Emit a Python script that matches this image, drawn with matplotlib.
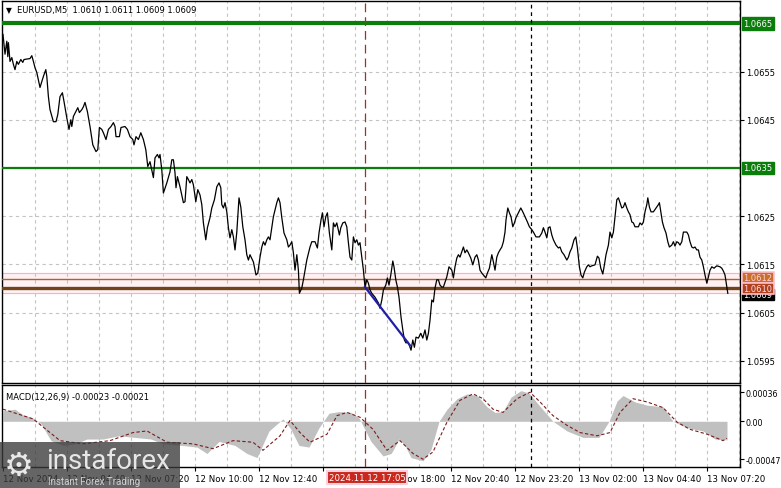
import matplotlib
matplotlib.use("Agg")
import matplotlib.pyplot as plt
from matplotlib.patches import Rectangle

# ---- data (x = bar number on the M5 chart, 0 = 12 Nov 02:00)
bar_pos = [0.0, 1.0, 1.9, 2.4, 2.7, 3.5, 4.4, 5.2, 6.0, 6.9, 7.7, 8.9, 9.9, 10.5, 13.5, 14.4, 15.2, 16.0, 16.9,
           18.5, 19.4, 20.2, 21.4, 21.9, 22.7, 23.5, 25.2, 26.5, 27.4, 28.5, 29.7, 30.5, 31.9, 33.0, 33.9, 34.4,
           35.2, 36.4, 37.4, 38.2, 39.4, 40.2, 41.0, 42.2, 43.5, 44.9, 46.5, 47.4, 48.2, 49.4, 50.2, 51.5, 52.7,
           54.0, 55.2, 56.0, 56.5, 58.2, 59.0, 61.0, 62.2, 63.5, 64.9, 65.5, 66.5, 67.7, 68.9, 70.2, 71.4, 72.4,
           73.5, 74.4, 75.2, 76.0, 77.2, 78.0, 78.5, 79.4, 80.2,
           81.9, 83.5, 84.4, 85.2, 86.0, 86.5, 87.2, 88.5, 90.2, 91.0, 91.9, 92.7, 93.5, 94.4, 95.2, 96.4, 97.4,
           98.5, 99.4, 100.2, 101.4, 102.2, 103.5, 104.4, 105.7, 106.9, 108.0, 108.9, 109.4, 110.2, 111.0, 111.9,
           112.7, 113.5, 114.4, 115.2, 116.0, 116.9, 118.0, 118.9, 119.9, 121.0, 121.9, 122.7, 123.5, 125.2,
           126.5, 127.4, 128.5, 129.4, 130.2, 131.0, 131.9, 132.7, 133.5, 135.2, 136.9, 137.7, 138.5, 139.4,
           140.5, 141.9, 142.7, 143.5, 144.4, 145.2, 146.0, 146.9, 147.7, 148.2,
           149.4, 150.2, 151.9, 153.5, 154.4, 156.0, 157.2, 158.0, 159.0, 159.7, 160.5, 161.4, 162.2, 163.2,
           164.4, 165.2, 166.0, 166.9, 168.2, 168.9, 169.9, 171.0, 171.9, 172.7, 173.5, 174.4, 175.2, 176.0,
           176.9, 177.7, 178.5, 179.4, 180.2, 181.0, 181.9, 182.7, 183.5, 184.4, 186.0, 187.7, 188.5, 189.4,
           190.2, 191.4, 192.2, 193.0, 193.9, 194.9, 195.5, 196.4, 197.2, 198.0, 199.0, 199.9, 200.7, 201.5,
           202.4, 203.2, 204.0, 204.9, 205.7, 206.5, 207.7, 208.9, 209.9, 211.0, 211.9, 212.7, 213.5, 214.4,
           215.2, 216.0, 216.9, 217.7, 218.5, 219.4, 220.2, 221.0, 221.9, 223.0,
           224.4, 225.2, 226.0, 226.9, 227.7, 228.5, 229.4, 230.2, 231.0, 231.9, 232.7, 233.9, 234.9, 236.0,
           236.9, 237.7, 238.5, 239.4, 240.2, 241.4, 242.2, 243.2, 244.4, 245.2, 246.0, 246.9, 247.7, 248.5,
           249.4, 250.2, 251.0, 251.5, 252.4, 253.2, 254.0, 254.9, 255.7, 256.5, 257.7, 258.9, 259.9, 261.0,
           262.2, 263.2, 264.4, 265.2, 266.5, 268.2, 269.4, 270.2, 271.0, 271.9, 272.7, 273.5, 274.4, 275.2,
           276.5, 277.7, 278.5, 279.4, 280.5, 281.9, 282.7, 283.5, 284.4, 285.5, 286.4, 287.2, 288.2, 289.0,
           289.9, 290.7, 291.9, 292.7,
           293.5, 294.4, 296.0, 297.2, 298.0, 298.9, 299.9, 300.7, 301.5, 302.7, 303.5, 304.4, 305.2, 306.0,
           306.9, 307.7, 308.5, 309.4, 310.2, 311.0, 311.9, 312.7, 313.5, 314.4, 315.2, 316.0, 317.7, 318.5,
           319.4, 320.2, 321.0, 321.9, 322.4, 323.2, 324.0, 325.2, 326.5, 327.7, 328.2, 328.9, 329.7, 330.5,
           331.5, 332.4, 333.2, 334.4, 335.2, 336.0, 336.9, 337.7, 338.5, 339.4, 340.2, 341.9, 342.7, 343.5,
           344.4, 345.2, 346.0, 346.9, 347.7, 348.5, 349.4, 350.2, 351.0, 351.9, 352.7, 353.5, 354.4, 355.5,
           356.9, 358.5, 359.4, 360.2, 361.0, 361.9, 362.4]
close = [1.06627, 1.06586, 1.06613, 1.06581, 1.06610, 1.06571, 1.06579, 1.06565, 1.06554, 1.06571, 1.06565,
         1.06575, 1.06569, 1.06575, 1.06577, 1.06583, 1.06571, 1.06558, 1.06548,
         1.06517, 1.06529, 1.06540, 1.06554, 1.06540, 1.06498, 1.06471, 1.06446, 1.06446, 1.06461, 1.06498,
         1.06506, 1.06488, 1.06454, 1.06430, 1.06450, 1.06436,
         1.06457, 1.06467, 1.06475, 1.06465, 1.06471, 1.06477, 1.06486, 1.06467, 1.06436, 1.06398, 1.06384,
         1.06388, 1.06434, 1.06430, 1.06423, 1.06409, 1.06430,
         1.06436, 1.06444, 1.06436, 1.06415, 1.06415, 1.06434, 1.06436, 1.06430, 1.06415, 1.06409, 1.06398,
         1.06415, 1.06409, 1.06423, 1.06409, 1.06388, 1.06353,
         1.06363, 1.06346, 1.06330, 1.06371, 1.06378, 1.06371, 1.06378, 1.06346, 1.06298,
         1.06319, 1.06342, 1.06367, 1.06367, 1.06340, 1.06309, 1.06332, 1.06311, 1.06278, 1.06280, 1.06332,
         1.06326, 1.06319, 1.06326, 1.06315, 1.06280, 1.06305,
         1.06294, 1.06274, 1.06236, 1.06201, 1.06226, 1.06247, 1.06267, 1.06284, 1.06311, 1.06319, 1.06309,
         1.06274, 1.06267, 1.06278, 1.06259,
         1.06226, 1.06205, 1.06222, 1.06207, 1.06180, 1.06217, 1.06288, 1.06269, 1.06228, 1.06201, 1.06170,
         1.06159, 1.06170, 1.06155,
         1.06128, 1.06132, 1.06165, 1.06186, 1.06197, 1.06190, 1.06201, 1.06207, 1.06201, 1.06249, 1.06278,
         1.06288, 1.06278, 1.06247,
         1.06215, 1.06201, 1.06186, 1.06190, 1.06197, 1.06174, 1.06138, 1.06170, 1.06138, 1.06090,
         1.06101, 1.06118, 1.06159, 1.06186, 1.06197, 1.06197, 1.06184, 1.06215, 1.06242, 1.06257, 1.06228,
         1.06249, 1.06257, 1.06215,
         1.06180, 1.06236, 1.06228, 1.06236, 1.06211, 1.06226, 1.06236, 1.06238, 1.06228, 1.06195, 1.06165,
         1.06159, 1.06207, 1.06195,
         1.06201, 1.06190, 1.06195, 1.06165, 1.06138, 1.06103, 1.06118, 1.06111, 1.06097, 1.06090, 1.06082,
         1.06070, 1.06059, 1.06076,
         1.06097, 1.06107, 1.06122, 1.06107, 1.06128, 1.06157, 1.06145, 1.06118, 1.06103, 1.06082, 1.06041,
         1.06014, 1.05993, 1.05987,
         1.05989, 1.05982, 1.05972, 1.05993, 1.05978, 1.05999, 1.05997, 1.06007, 1.05997, 1.06014, 1.05993,
         1.06007, 1.06034, 1.06076,
         1.06072, 1.06101, 1.06118, 1.06118, 1.06107, 1.06103, 1.06103, 1.06113, 1.06124, 1.06145,
         1.06138, 1.06122, 1.06145, 1.06163, 1.06170, 1.06165, 1.06176, 1.06186, 1.06174, 1.06180, 1.06174,
         1.06163, 1.06149, 1.06165,
         1.06170, 1.06159, 1.06138, 1.06132, 1.06128, 1.06122, 1.06132, 1.06142, 1.06170, 1.06155, 1.06138,
         1.06165, 1.06174, 1.06180,
         1.06186, 1.06197, 1.06217, 1.06242, 1.06267, 1.06257, 1.06249, 1.06228, 1.06236, 1.06247, 1.06257,
         1.06267, 1.06259, 1.06249,
         1.06238, 1.06228, 1.06222, 1.06217, 1.06207, 1.06207, 1.06215, 1.06226, 1.06217, 1.06205, 1.06226,
         1.06228, 1.06211, 1.06201,
         1.06190, 1.06184, 1.06186, 1.06176, 1.06170, 1.06159, 1.06165, 1.06176, 1.06184, 1.06201, 1.06207,
         1.06184, 1.06145, 1.06128,
         1.06122, 1.06134, 1.06145, 1.06149,
         1.06145, 1.06147, 1.06149, 1.06167, 1.06163, 1.06142, 1.06130, 1.06149, 1.06170, 1.06190, 1.06217,
         1.06205, 1.06217, 1.06249,
         1.06284, 1.06288, 1.06278, 1.06267, 1.06269, 1.06278, 1.06267, 1.06259, 1.06253, 1.06238, 1.06236,
         1.06228, 1.06228, 1.06236,
         1.06232, 1.06238, 1.06259, 1.06274, 1.06288, 1.06269, 1.06259, 1.06259, 1.06267, 1.06274, 1.06278,
         1.06259, 1.06238, 1.06226,
         1.06215, 1.06197, 1.06186, 1.06190, 1.06197, 1.06188, 1.06197, 1.06195, 1.06190, 1.06197, 1.06217,
         1.06217, 1.06211, 1.06197,
         1.06186, 1.06184, 1.06186, 1.06180, 1.06180, 1.06165, 1.06159, 1.06145, 1.06128, 1.06111, 1.06124,
         1.06138, 1.06145, 1.06142,
         1.06147, 1.06145, 1.06142, 1.06136, 1.06128, 1.06103, 1.06090]

# MACD(12,26,9): main line (grey histogram) and signal line
macd_bars = [0, 6, 10, 15, 19, 24, 30, 36, 42, 50, 58, 66, 74, 80, 90, 97, 102, 108, 116, 122, 127, 133,
             140, 144, 148, 153, 158, 163, 168, 174, 178, 184, 190, 194, 195, 198, 201, 204, 210, 214, 218,
             222, 227, 232, 237, 242, 246, 250, 254, 259, 263, 268, 275, 282, 290, 298, 303, 307, 310, 316,
             322, 330, 335, 342, 350, 356, 362]
macd_main = [0.00013, 0.00015, 0.00008, 0.00004, -0.00003, -0.00024, -0.00030, -0.00028, -0.00022, -0.00022,
             -0.00018, -0.00020, -0.00022, -0.00028, -0.00030, -0.00032, -0.00040, -0.00025, -0.00030,
             -0.00040, -0.00045, -0.00012, 0.00003, -0.00010, -0.00030, -0.00032, -0.00008, 0.00010, 0.00012,
             0.00011, 0.00004, -0.00025, -0.00043, -0.00040, -0.00036, -0.00022, -0.00030, -0.00045, -0.00049,
             -0.00035, 0.0, 0.00015, 0.00028, 0.00034, 0.00032, 0.00018, 0.00011, 0.00012, 0.00030, 0.00038,
             0.00035, 0.00020, 0.0, -0.00012, -0.00020, -0.00020, 0.0, 0.00025, 0.00032, 0.00024, 0.00020,
             0.00018, 0.0, -0.00008, -0.00012, -0.00022, -0.00023]
sig_bars = [0, 15, 28.5, 40, 53.5, 65, 72, 82, 95, 105, 115, 125, 130, 138.5, 143.5, 148.5, 153.5, 162, 167,
            172, 178.5, 185, 192, 198.5, 205, 210, 215, 222, 228.5, 235, 240, 245, 250, 257, 263.5, 268.5,
            275, 282, 288.5, 297, 303.5, 308.5, 315, 322, 330, 337, 343.5, 352, 360, 362]
macd_signal = [0.00015, 0.00003, -0.00024, -0.00028, -0.00024, -0.00014, -0.00012, -0.00026, -0.00028,
               -0.00034, -0.00024, -0.00026, -0.00036, -0.00018, 0.00001, -0.00014, -0.00026, -0.00016,
               0.00007, 0.00011, 0.00005, -0.00010, -0.00036, -0.00024, -0.00040, -0.00047, -0.00038,
               -0.00001, 0.00026, 0.00034, 0.00028, 0.00015, 0.00011, 0.00028, 0.00036, 0.00024, 0.00007,
               -0.00005, -0.00014, -0.00018, -0.00014, 0.00011, 0.00028, 0.00024, 0.00017, -0.00001,
               -0.00010, -0.00016, -0.00024, -0.00021]

green_levels = [1.0665, 1.0635]
brown_levels = [1.0612, 1.0610]
pink_band = [1.06090, 1.06132]
last_price = 1.0609
trend_bars = [181.0, 203.5]
trend_prices = [1.06103, 1.05982]
red_marker_bar = 181        # 2024.11.12 17:05
day_separator_bar = 264     # 13 Nov 00:00

price_ticks = [1.0595, 1.0605, 1.0615, 1.0625, 1.0645, 1.0655]
macd_ticks = [-0.00047, 0.0, 0.00036]
macd_tick_labels = ["-0.00047", "0.00", "0.00036"]
time_ticks = [0, 32, 64, 96, 128, 160, 192, 224, 256, 288, 320, 352]
time_labels = ["12 Nov 2024", "12 Nov 04:40", "12 Nov 07:20", "12 Nov 10:00", "12 Nov 12:40",
               "", "12 Nov 18:00", "12 Nov 20:40", "12 Nov 23:20", "13 Nov 02:00",
               "13 Nov 04:40", "13 Nov 07:20"]
header = "EURUSD,M5  1.0610 1.0611 1.0609 1.0609"
macd_header = "MACD(12,26,9) -0.00023 -0.00021"

# ---- layout (pixel boxes of the 781x489 picture)
W, H = 781.0, 489.0


def box(x0, y0, x1, y1):
    return [x0 / W, 1 - y1 / H, (x1 - x0) / W, (y1 - y0) / H]


plt.rcParams['font.family'] = ['DejaVu Sans']
plt.rcParams['axes.unicode_minus'] = False
fig = plt.figure(figsize=(7.81, 4.89), dpi=100)
ax = fig.add_axes(box(2, 2, 740, 384))
axm = fig.add_axes(box(2, 386, 740, 468))

grid_kw = dict(color='#c4c4c4', linestyle=(0, (3, 3)), linewidth=0.8)
xlim = (-0.5, 368.5)

# ---- main price panel
ax.set_xlim(*xlim)
ax.set_ylim(1.059039, 1.066964)
ax.set_xticks(range(16, 369, 16))
ax.tick_params(axis='x', length=0, labelbottom=False)
ax.grid(axis='x', **grid_kw)
ax.yaxis.tick_right()
ax.set_yticks(price_ticks)
ax.set_yticklabels(["%.4f" % p for p in price_ticks])
ax.tick_params(axis='y', length=3, width=0.8, pad=1.5, labelsize=6)
ax.grid(axis='y', **grid_kw)
for s in ax.spines.values():
    s.set_linewidth(1.0)

ax.axhspan(pink_band[0], pink_band[1], color='#fff0f3', zorder=1)
for p in pink_band:
    ax.axhline(p, color='#ffb0c0', lw=0.8, zorder=2)
ax.axhline(green_levels[0], color='#0b7d0b', lw=3.0, zorder=3)
ax.axhline(green_levels[1], color='#0b7d0b', lw=1.6, zorder=3)
ax.axhline(brown_levels[0], color='#a8642a', lw=1.0, zorder=3)
ax.axhline(brown_levels[1], color='#6e4418', lw=2.4, zorder=3)
ax.axvline(red_marker_bar, color='#a0302a', linestyle=(0, (7, 4)), lw=0.9, zorder=3)
ax.axvline(day_separator_bar, color='black', linestyle=(0, (3, 3)), lw=0.9, zorder=3)

ax.plot(bar_pos, close, color='black', lw=0.9, zorder=5)
ax.plot(trend_bars, trend_prices, color='#1f1fa8', lw=1.6, zorder=6)

ax.text(0.005, 0.977, "\u25bc", transform=ax.transAxes, fontsize=5.5, va='center', ha='left')
ax.text(0.02, 0.977, header, transform=ax.transAxes, fontsize=6, va='center', ha='left')

yt = ax.get_yaxis_transform()
label_kw = dict(xycoords=yt, textcoords='offset points', xytext=(2.5, 0), va='center', ha='left',
                fontsize=6, annotation_clip=False, zorder=10)
ax.annotate("%.4f" % last_price, (1, last_price - 0.00002), color='white',
            bbox=dict(boxstyle='square,pad=0.15', fc='black', ec='black'), **label_kw)
ax.annotate("%.4f" % brown_levels[0], (1, brown_levels[0] + 0.00003), color='#ffd0d8',
            bbox=dict(boxstyle='square,pad=0.15', fc='#c8702a', ec='#ffc0cc', lw=1.2), **label_kw)
ax.annotate("%.4f" % brown_levels[1], (1, brown_levels[1]), color='#ffe0e4',
            bbox=dict(boxstyle='square,pad=0.15', fc='#b0401e', ec='#ffc0cc', lw=1.2), **label_kw)
for g in green_levels:
    ax.annotate("%.4f" % g, (1, g), color='white',
                bbox=dict(boxstyle='square,pad=0.2', fc='#0b7d0b', ec='#0b7d0b'), **label_kw)

# ---- MACD panel
axm.set_xlim(*xlim)
axm.set_ylim(-0.000567, 0.00045)
axm.fill_between(macd_bars, 0, macd_main, color='#c0c0c0', lw=0, zorder=2)
axm.plot(sig_bars, macd_signal, color='#7a1c1c', linestyle=(0, (3, 2)), lw=0.8, zorder=4)
axm.axvline(red_marker_bar, color='#a0302a', linestyle=(0, (7, 4)), lw=0.9, zorder=3)
axm.axvline(day_separator_bar, color='black', linestyle=(0, (3, 3)), lw=0.9, zorder=3)
for gx in range(16, 369, 16):
    axm.axvline(gx, zorder=1, **grid_kw)
axm.yaxis.tick_right()
axm.set_yticks(macd_ticks)
axm.set_yticklabels(macd_tick_labels)
axm.tick_params(axis='y', length=3, width=0.8, pad=1, labelsize=5.7)
axm.set_xticks(time_ticks)
axm.set_xticklabels(time_labels)
axm.tick_params(axis='x', length=3, width=0.8, pad=2, labelsize=6.2)
for lab in axm.get_xticklabels():
    lab.set_ha('left')
for s in axm.spines.values():
    s.set_linewidth(1.0)
axm.text(0.006, 0.86, macd_header, transform=axm.transAxes, fontsize=6, va='center', ha='left')

axm.annotate("2024.11.12 17:05", (red_marker_bar, 0), xycoords=('data', 'axes fraction'),
             textcoords='offset points', xytext=(-26, -7.5), va='center', ha='left', fontsize=6.2,
             color='white', annotation_clip=False, zorder=10,
             bbox=dict(boxstyle='square,pad=0.2', fc='#c8281e', ec='#ffd0dc', lw=1.5))

# ---- watermark logo (bottom left)
fig.patches.append(Rectangle((0, 0), 180 / W, 46 / H, transform=fig.transFigure,
                             facecolor='#3a3a3a', alpha=0.78, edgecolor='none', zorder=20))
fig.text(4 / W, 1 - 466 / H, "\u2699", fontsize=24, color='#e8e8e8', va='center', ha='left', zorder=21)
fig.text(46 / W, 1 - 462 / H, "instaforex", fontsize=20, family='Roboto', color='#e6e6e6',
         va='center', ha='left', zorder=21)
fig.text(48 / W, 1 - 482 / H, "Instant Forex Trading", fontsize=7, family='Roboto', color='#d0d0d0',
         va='center', ha='left', zorder=21)

fig.savefig("out.png", dpi=100)
